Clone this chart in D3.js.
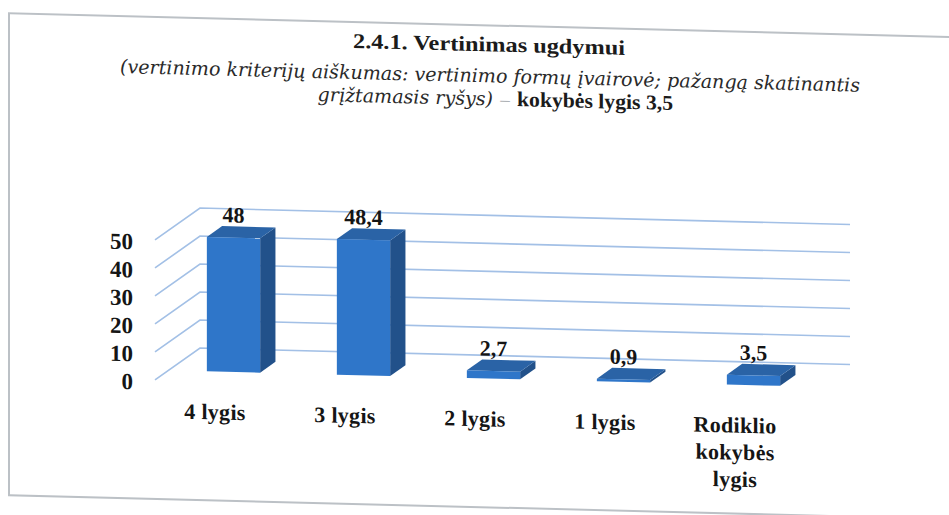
<!DOCTYPE html>
<html>
<head>
<meta charset="utf-8">
<script src="https://cdn.jsdelivr.net/npm/d3@7"></script>
<style>
	body { margin: 0; background: #ffffff; }
	svg { display: block; font-family: "Liberation Serif", "Times New Roman", serif; }
	.it { font-family: "DejaVu Serif Condensed", "DejaVu Serif", serif; font-style: italic; }
</style>
</head>
<body>
<svg width="949" height="515"></svg>
<script>
// values
const categories = ["4 lygis", "3 lygis", "2 lygis", "1 lygis", "Rodiklio"];
const categoryLines = [["4 lygis"], ["3 lygis"], ["2 lygis"], ["1 lygis"], ["Rodiklio", "kokybės", "lygis"]];
const values = [48, 48.4, 2.7, 0.9, 3.5];
const valueLabels = ["48", "48,4", "2,7", "0,9", "3,5"];
const yTicks = [0, 10, 20, 30, 40, 50];

const titleText = "2.4.1. Vertinimas ugdymui";
const subtitleLine1 = "(vertinimo kriterijų aiškumas: vertinimo formų įvairovė; pažangą skatinantis";
const subtitleLine2 = "grįžtamasis ryšys)";
const subtitleBold = "kokybės lygis 3,5";

class Bar3D {
	constructor() {
		this.svg = d3.select("svg");
		// the scan is slightly sheared, right side sits lower
		this.g = this.svg.append("g").attr("transform", "skewY(1.45)");
		this.depthX = 45;
		this.depthY = -33;
		this.barFront = 0.3;
		this.barBack = 0.64;
		this.xScale = d3
			.scaleBand()
			.domain(categories)
			.range([155, 805]);
		this.yScale = d3.scaleLinear().domain([0, 50]).range([376, 236]);
		this.barWidth = this.xScale.bandwidth() * 0.41;

		this.drawFrame();
		this.drawTitle();
		this.drawGrid();
		this.drawBars();
		this.drawLabels();
	}

	drawFrame() {
		this.g
			.append("rect")
			.attr("x", 9)
			.attr("y", 13)
			.attr("width", 980)
			.attr("height", 482)
			.attr("fill", "none")
			.attr("stroke", "#bcc1c6")
			.attr("stroke-width", 2);
	}

	drawTitle() {
		this.g
			.append("text")
			.attr("x", 489)
			.attr("y", 39)
			.attr("text-anchor", "middle")
			.attr("font-size", "21px")
			.attr("font-weight", "bold")
			.attr("fill", "#1b1b1b")
			.attr("textLength", 272)
			.attr("lengthAdjust", "spacingAndGlyphs")
			.text(titleText);

		let l1 = this.g
			.append("text")
			.attr("class", "it")
			.attr("x", 490)
			.attr("y", 70)
			.attr("text-anchor", "middle")
			.attr("font-size", "19px")
			.attr("fill", "#2a2a2a")
			.text(subtitleLine1);
		let k = 740 / l1.node().getComputedTextLength();
		l1.attr("textLength", 740).attr("lengthAdjust", "spacingAndGlyphs");

		// third line: italic part, grey dash, bold part
		let a = this.g
			.append("text")
			.attr("class", "it")
			.attr("x", 493)
			.attr("y", 93)
			.attr("text-anchor", "end")
			.attr("font-size", "19px")
			.attr("fill", "#2a2a2a")
			.text(subtitleLine2);
		a.attr("textLength", a.node().getComputedTextLength() * k)
			.attr("lengthAdjust", "spacingAndGlyphs");
		this.g
			.append("text")
			.attr("x", 505)
			.attr("y", 93)
			.attr("text-anchor", "middle")
			.attr("font-size", "19px")
			.attr("fill", "#aeb2b6")
			.text("–");
		this.g
			.append("text")
			.attr("x", 517)
			.attr("y", 93)
			.attr("font-size", "21px")
			.attr("font-weight", "bold")
			.attr("fill", "#1b1b1b")
			.attr("textLength", 156)
			.attr("lengthAdjust", "spacingAndGlyphs")
			.text(subtitleBold);
	}

	drawGrid() {
		let x0 = this.xScale.range()[0];
		let x1 = this.xScale.range()[1];
		let grid = this.g.append("g").attr("class", "grid");
		yTicks.forEach((t) => {
			let y = this.yScale(t);
			let pts = [
				[x0, y],
				[x0 + this.depthX, y + this.depthY],
				[x1 + this.depthX, y + this.depthY],
			];
			grid.append("path")
				.attr("d", d3.line()(pts))
				.attr("fill", "none")
				.attr("stroke", "#a3c0e6")
				.attr("stroke-width", 1.6);
		});

		grid.selectAll(".ytick")
			.data(yTicks)
			.join("text")
			.attr("class", "ytick")
			.attr("x", 133)
			.attr("y", (d) => this.yScale(d) + 2)
			.attr("dy", "0.35em")
			.attr("text-anchor", "end")
			.attr("font-size", "23px")
			.attr("font-weight", "bold")
			.attr("fill", "#151515")
			.text((d) => d);
	}

	drawBars() {
		let bars = this.g.append("g").attr("class", "bars");
		let fdx = this.barFront * this.depthX;
		let fdy = this.barFront * this.depthY;
		let ddx = (this.barBack - this.barFront) * this.depthX;
		let ddy = (this.barBack - this.barFront) * this.depthY;

		values.forEach((v, i) => {
			let cx = this.xScale(categories[i]) + this.xScale.bandwidth() / 2 + fdx;
			let xl = cx - this.barWidth / 2;
			let xr = cx + this.barWidth / 2;
			let yTop = this.yScale(v) + fdy;
			let yBot = this.yScale(0) + fdy;

			// right side
			bars.append("path")
				.attr("d", d3.line()([
					[xr, yTop],
					[xr + ddx, yTop + ddy],
					[xr + ddx, yBot + ddy],
					[xr, yBot],
				]) + "Z")
				.attr("fill", "#22518a");
			// top
			bars.append("path")
				.attr("d", d3.line()([
					[xl, yTop],
					[xr, yTop],
					[xr + ddx, yTop + ddy],
					[xl + ddx, yTop + ddy],
				]) + "Z")
				.attr("fill", "#2a63a6");
			// front
			bars.append("rect")
				.attr("x", xl)
				.attr("y", yTop)
				.attr("width", this.barWidth)
				.attr("height", yBot - yTop)
				.attr("fill", "#2f76c9");

			bars.append("text")
				.attr("x", cx)
				.attr("y", yTop + ddy - 4)
				.attr("text-anchor", "middle")
				.attr("font-size", "22px")
				.attr("font-weight", "bold")
				.attr("fill", "#151515")
				.text(valueLabels[i]);
		});
	}

	drawLabels() {
		let labels = this.g.append("g").attr("class", "xlabels");
		categoryLines.forEach((lines, i) => {
			let cx = this.xScale(categories[i]) + this.xScale.bandwidth() / 2 - 5;
			let t = labels
				.append("text")
				.attr("x", cx)
				.attr("y", 414)
				.attr("text-anchor", "middle")
				.attr("font-size", "22px")
				.attr("font-weight", "bold")
				.attr("letter-spacing", "0.3px")
				.attr("fill", "#151515");
			lines.forEach((s, j) => {
				t.append("tspan")
					.attr("x", cx)
					.attr("dy", j == 0 ? 0 : 27)
					.text(s);
			});
		});
	}
}

new Bar3D();
</script>
</body>
</html>
